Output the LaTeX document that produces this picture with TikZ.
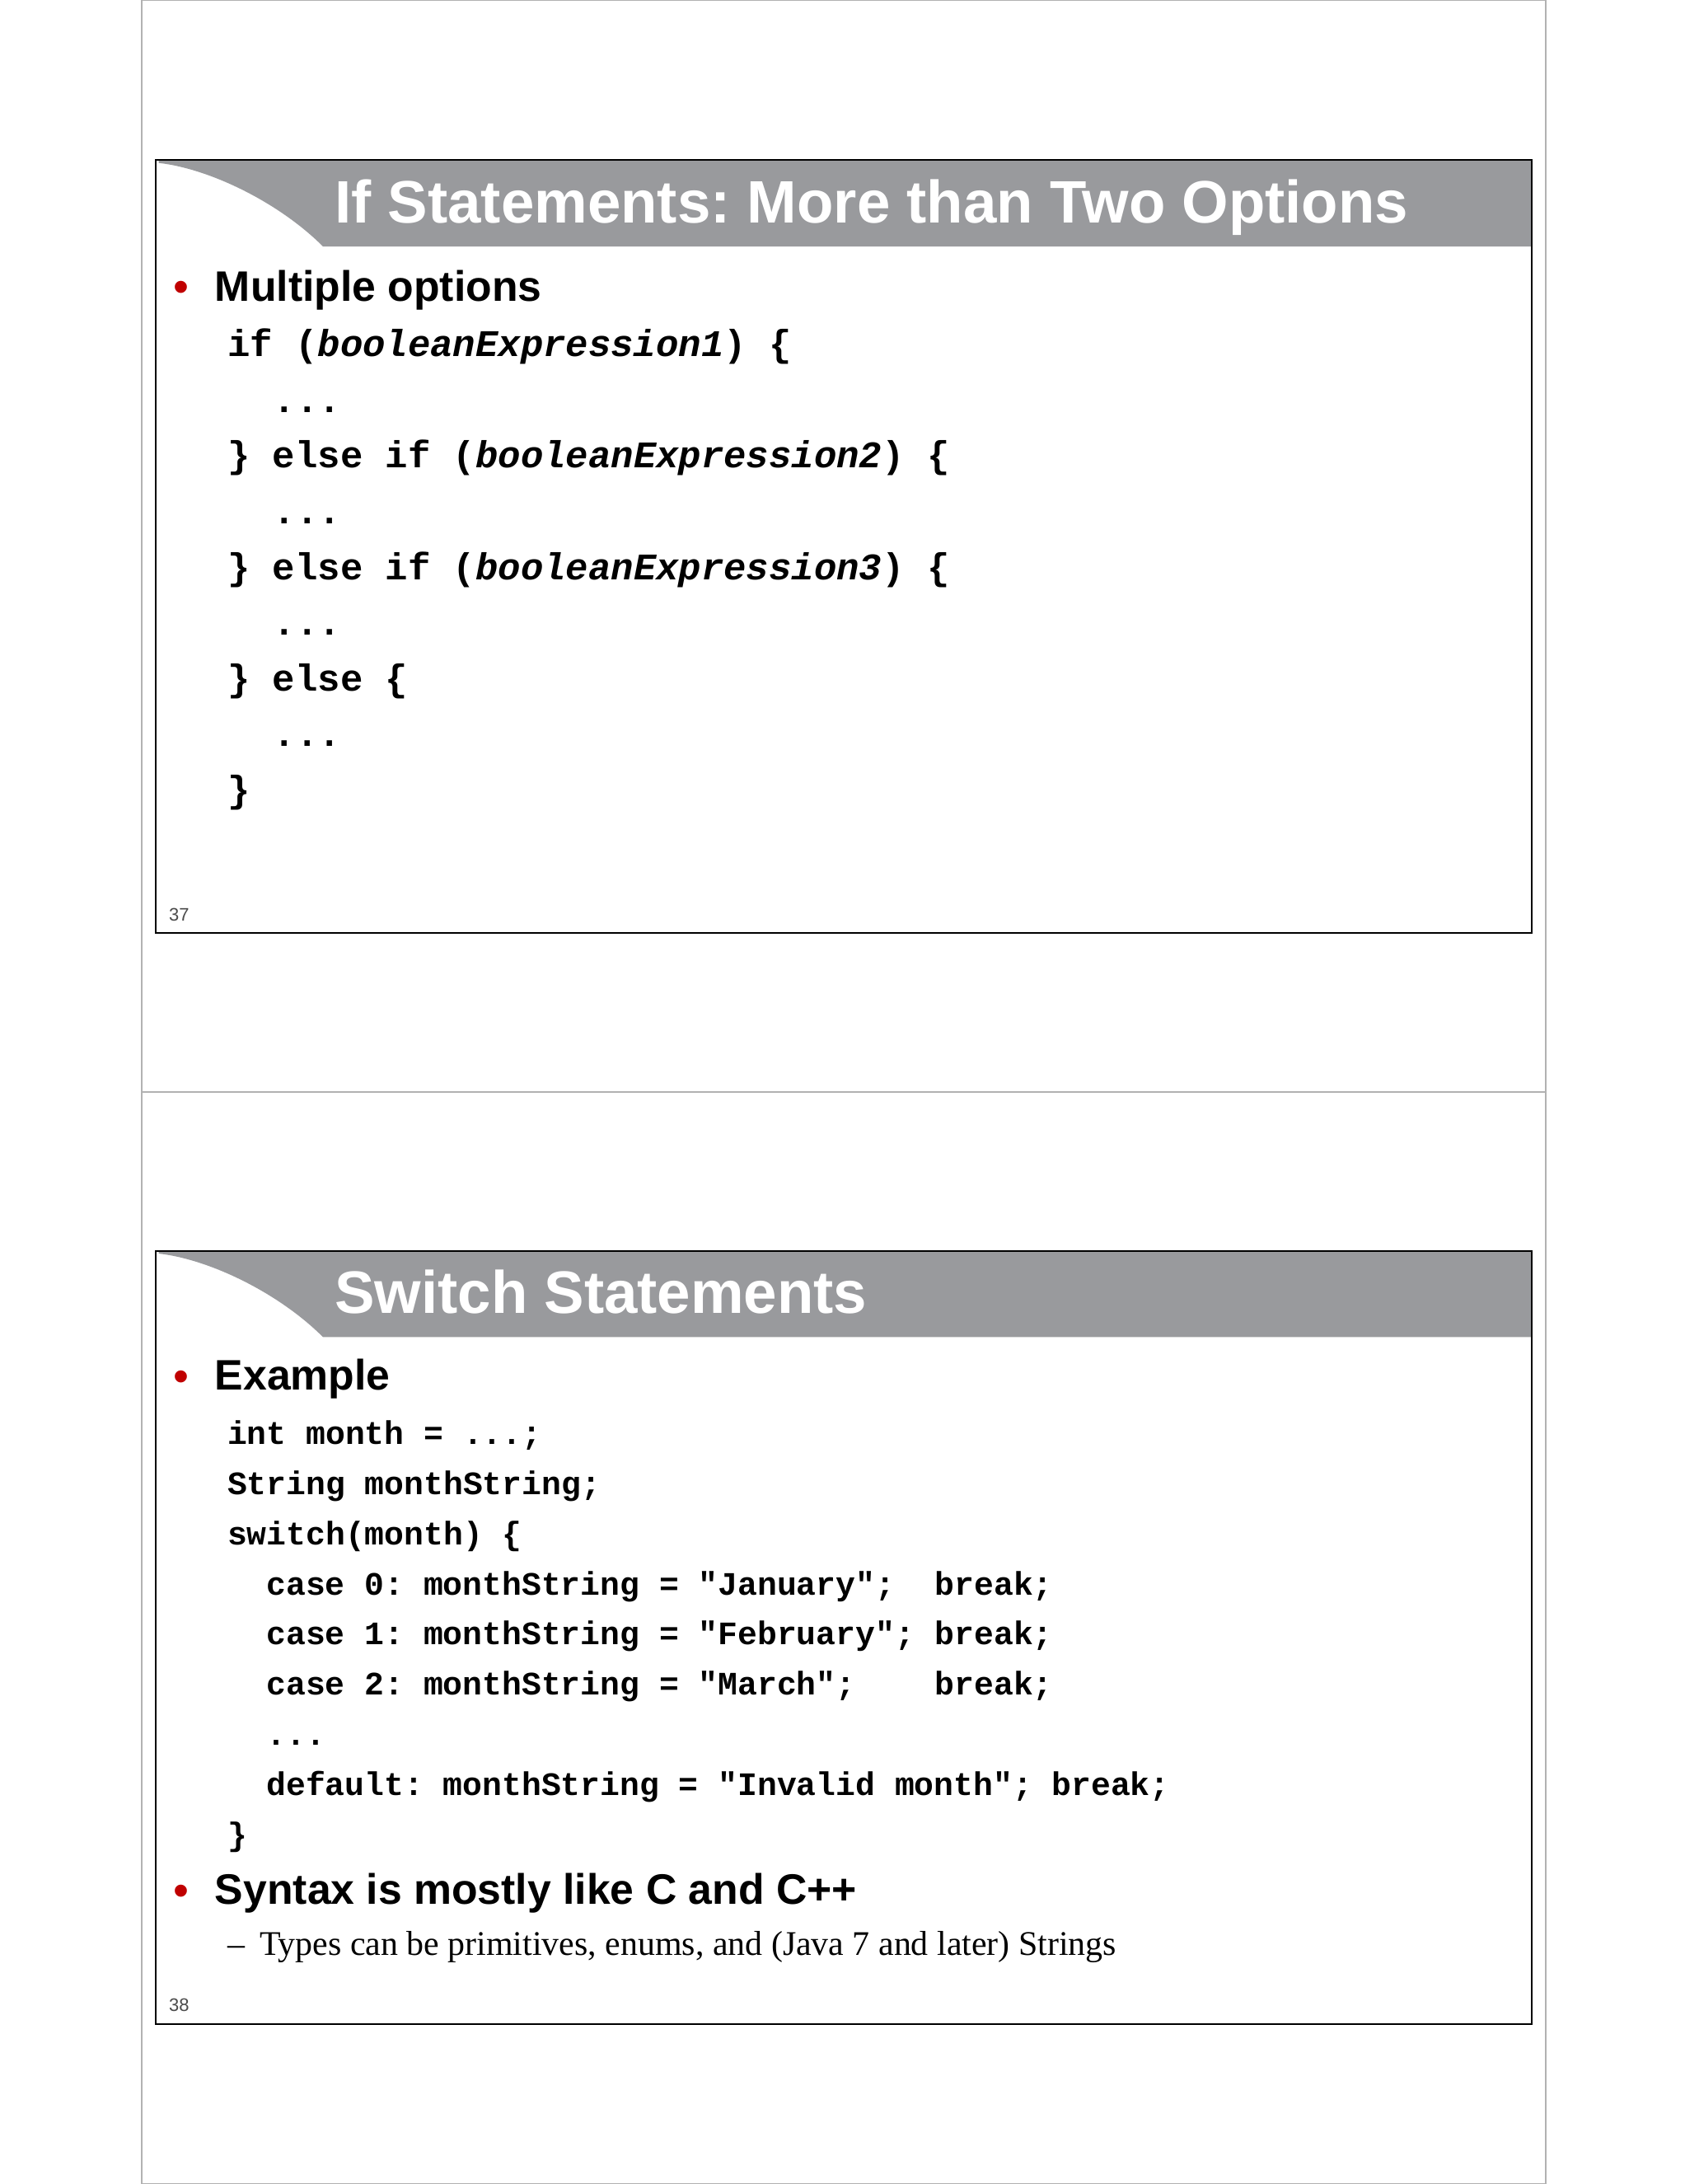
\documentclass[tikz,border=0pt]{standalone}
\usepackage{fontspec}
\setmainfont{Liberation Sans}
\newfontfamily\cmono{Liberation Mono}
\newfontfamily\cserif{Liberation Serif}
\definecolor{bargray}{HTML}{999A9D}
\definecolor{bulred}{HTML}{C00000}
\frenchspacing
\begin{document}
\begin{tikzpicture}[x=0.5pt,y=-0.5pt,
  ttl/.style={anchor=base west,inner sep=0,text=white,font=\fontsize{21.5}{26}\selectfont\bfseries},
  bul/.style={anchor=base west,inner sep=0,font=\fontsize{15.3}{19}\selectfont\bfseries},
  dot/.style={anchor=base west,inner sep=0,text=bulred,font=\fontsize{16}{18}\selectfont},
  codea/.style={anchor=base west,inner sep=0,font=\fontsize{13.5}{16}\selectfont\cmono\bfseries},
  codeb/.style={anchor=base west,inner sep=0,font=\fontsize{11.75}{14}\selectfont\cmono\bfseries},
  num/.style={anchor=base west,inner sep=0,text=black!70,font=\fontsize{6.5}{8}\selectfont},
  sub/.style={anchor=base west,inner sep=0,font=\fontsize{12.4}{15}\selectfont\cserif}]
\useasboundingbox (0,0) rectangle (1210,1568);
\fill[white] (0,0) rectangle (1210,1568);
\draw[black!30,line width=0.6pt] (102,0) rectangle (1110,1568);
\draw[black!30,line width=0.6pt] (102,784) -- (1110,784);
\foreach \t in {115,898}{
  \fill[bargray] (114,\t+2) .. controls (150,\t+6) and (200,\t+30) .. (232,\t+62) -- (1100,\t+62) -- (1100,\t) -- (114,\t) -- cycle;
  \draw[black,line width=0.6pt] (112,\t) rectangle (1100,\t+555);
}
% slide 1
\node[ttl] (t1) at (240,160) {If Statements: More than Two Options};
\node[dot] (d1) at (124,217) {•};
\node[bul] (b1) at (154,216) {Multiple options};
\node[codea] (a1) at (163,256) {if (\textit{booleanExpression1}) \{};
\node[codea] (a2) at (196,296) {...};
\node[codea] (a3) at (163,336) {\} else if (\textit{booleanExpression2}) \{};
\node[codea] (a4) at (196,376) {...};
\node[codea] (a5) at (163,416) {\} else if (\textit{booleanExpression3}) \{};
\node[codea] (a6) at (196,456) {...};
\node[codea] (a7) at (163,496) {\} else \{};
\node[codea] (a8) at (196,536) {...};
\node[codea] (a9) at (163,576) {\}};
\node[num] (n1) at (121,661) {37};
% slide 2
\node[ttl] (t2) at (240,943) {Switch Statements};
\node[dot] (d2) at (124,999) {•};
\node[bul] (b2) at (154,998) {Example};
\node[codeb] (c1) at (163,1037) {int month = ...;};
\node[codeb] (c2) at (163,1073) {String monthString;};
\node[codeb] (c3) at (163,1109) {switch(month) \{};
\node[codeb] (c4) at (191,1145) {case 0: monthString = "January";};
\node[codeb] (c5) at (191,1181) {case 1: monthString = "February";};
\node[codeb] (c6) at (191,1217) {case 2: monthString = "March";};
\node[codeb] (k4) at (671,1145) {break;};
\node[codeb] (k5) at (671,1181) {break;};
\node[codeb] (k6) at (671,1217) {break;};
\node[codeb] (c7) at (191,1253) {...};
\node[codeb] (c8) at (191,1289) {default: monthString = "Invalid month"; break;};
\node[codeb] (c9) at (163,1325) {\}};
\node[dot] (d3) at (124,1368) {•};
\node[bul] (b3) at (154,1367) {Syntax is mostly like C and C++};
\node[sub] (s1) at (163,1404) {–};
\node[sub] (s2) at (186,1404) {Types can be primitives, enums, and (Java 7 and later) Strings};
\node[num] (n2) at (121,1444) {38};
\end{tikzpicture}
\end{document}
